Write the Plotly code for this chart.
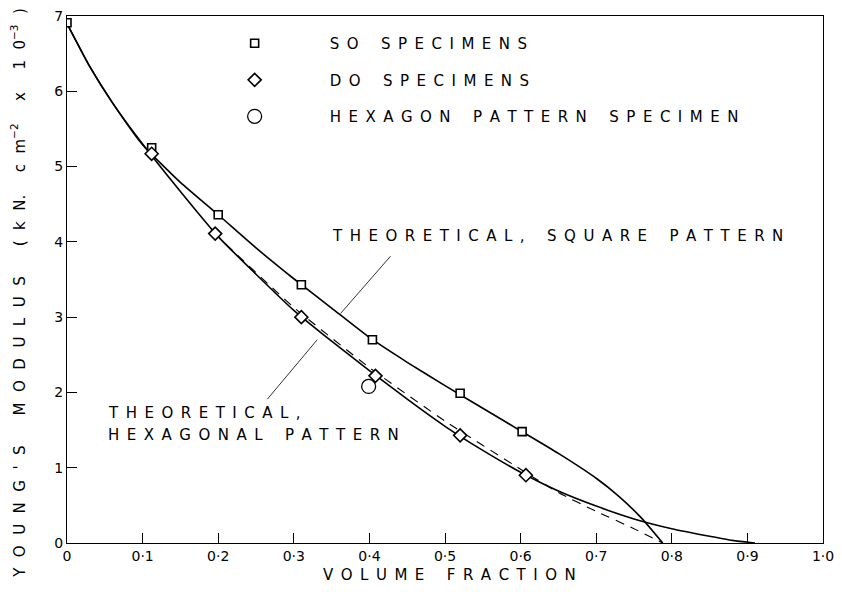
import plotly.graph_objects as go

# ---------------- data ----------------
so_x = [0.0, 0.112, 0.20, 0.31, 0.404, 0.52, 0.602]
so_y = [6.91, 5.25, 4.36, 3.43, 2.70, 1.99, 1.48]

do_x = [0.112, 0.196, 0.31, 0.408, 0.52, 0.607]
do_y = [5.17, 4.11, 3.00, 2.22, 1.43, 0.90]

hex_x = [0.399]
hex_y = [2.08]

sq_theory_x = [0.0, 0.03, 0.06, 0.10, 0.15, 0.20, 0.25, 0.30, 0.35, 0.40, 0.45, 0.50,
               0.55, 0.60, 0.65, 0.70, 0.73, 0.76, 0.788]
sq_theory_y = [6.90, 6.33, 5.85, 5.29, 4.79, 4.36, 3.92, 3.51, 3.12, 2.73, 2.40, 2.09,
               1.79, 1.49, 1.19, 0.86, 0.62, 0.33, 0.0]

hx_theory_x = [0.0, 0.03, 0.06, 0.10, 0.15, 0.20, 0.25, 0.30, 0.35, 0.40, 0.45, 0.50,
               0.55, 0.60, 0.65, 0.70, 0.75, 0.80, 0.85, 0.88, 0.91]
hx_theory_y = [6.90, 6.33, 5.85, 5.30, 4.67, 4.07, 3.57, 3.09, 2.68, 2.29, 1.91, 1.55,
               1.23, 0.94, 0.69, 0.49, 0.32, 0.19, 0.09, 0.035, 0.0]

dash_x = [0.21, 0.30, 0.40, 0.50, 0.60, 0.65, 0.70, 0.75, 0.788]
dash_y = [3.97, 3.13, 2.33, 1.62, 0.98, 0.67, 0.42, 0.19, 0.0]

x_tickvals = [0, 0.1, 0.2, 0.3, 0.4, 0.5, 0.6, 0.7, 0.8, 0.9, 1.0]
x_ticktext = ["0", "0·1", "0·2", "0·3", "0·4", "0·5", "0·6", "0·7", "0·8", "0·9", "1·0"]
y_tickvals = [0, 1, 2, 3, 4, 5, 6, 7]
y_ticktext = ["0", "1", "2", "3", "4", "5", "6", "7"]

# annotation anchors (data coords)
sq_label_pos = (0.348, 4.08)
sq_leader = [(0.428, 3.81), (0.362, 3.05)]
hx_label1_pos = (0.052, 1.73)
hx_label2_pos = (0.052, 1.43)
hx_leader = [(0.331, 2.70), (0.265, 1.91)]

# ---------------- styling ----------------
FONT = "DejaVu Sans"
SP = "\u2002"


def spaced(s, sep=SP, wgap=3):
    words = s.split(" ")
    return (SP * wgap).join(sep.join(list(w)) for w in words)


fig = go.Figure()

line_style = dict(color="black", width=1.6, shape="spline", smoothing=0.5)
fig.add_trace(go.Scatter(x=sq_theory_x, y=sq_theory_y, mode="lines", line=line_style,
                         showlegend=False, hoverinfo="skip"))
fig.add_trace(go.Scatter(x=hx_theory_x, y=hx_theory_y, mode="lines", line=line_style,
                         showlegend=False, hoverinfo="skip"))
fig.add_trace(go.Scatter(x=dash_x, y=dash_y, mode="lines",
                         line=dict(color="black", width=1.1, dash="9px,7px", shape="spline", smoothing=0.5),
                         showlegend=False, hoverinfo="skip"))

fig.add_trace(go.Scatter(x=so_x, y=so_y, mode="markers", name=spaced("SO SPECIMENS"),
                         legendgroup="a",
                         marker=dict(symbol="square", size=8, color="white",
                                     line=dict(color="black", width=1.6))))
fig.add_trace(go.Scatter(x=do_x, y=do_y, mode="markers", name=spaced("DO SPECIMENS"),
                         legendgroup="b",
                         marker=dict(symbol="diamond", size=10, color="white",
                                     line=dict(color="black", width=1.6))))
fig.add_trace(go.Scatter(x=hex_x, y=hex_y, mode="markers", name=spaced("HEXAGON PATTERN SPECIMEN"),
                         legendgroup="c",
                         marker=dict(symbol="circle", size=14, color="white",
                                     line=dict(color="black", width=1.3))))

for (x0, y0), (x1, y1) in [sq_leader, hx_leader]:
    fig.add_shape(type="line", x0=x0, y0=y0, x1=x1, y1=y1, xref="x", yref="y",
                  line=dict(color="black", width=0.8))

ann_font = dict(family=FONT, size=15, color="black")
fig.add_annotation(x=sq_label_pos[0], y=sq_label_pos[1], xref="x", yref="y",
                   text=spaced("THEORETICAL, SQUARE PATTERN"), showarrow=False,
                   xanchor="left", yanchor="middle", font=ann_font)
fig.add_annotation(x=hx_label1_pos[0], y=hx_label1_pos[1], xref="x", yref="y",
                   text=spaced("THEORETICAL,"), showarrow=False,
                   xanchor="left", yanchor="middle", font=ann_font)
fig.add_annotation(x=hx_label2_pos[0], y=hx_label2_pos[1], xref="x", yref="y",
                   text=spaced("HEXAGONAL PATTERN"), showarrow=False,
                   xanchor="left", yanchor="middle", font=ann_font)

# axis titles
fig.add_annotation(x=0.506, y=-0.06, xref="paper", yref="paper",
                   text=spaced("VOLUME FRACTION"), showarrow=False,
                   xanchor="center", yanchor="middle", font=ann_font)
YS = "\u2002\u2009"
ytitle = (spaced("YOUNG'S MODULUS", sep=YS, wgap=4) + SP * 4 + "(" + YS + "k" + YS + "N." + SP * 3
          + "c" + YS + "m" + "<sup>\u22122</sup>" + SP * 3 + "x" + SP * 3 + "1" + YS + "0"
          + "<sup>\u22123</sup>" + YS + ")")
fig.add_annotation(x=-0.064, y=0.474, xref="paper", yref="paper",
                   text=ytitle, showarrow=False, textangle=-90,
                   xanchor="center", yanchor="middle", font=ann_font)

axis_common = dict(showgrid=False, zeroline=False, showline=True, linecolor="black",
                   linewidth=1.2, mirror=True, ticks="inside", ticklen=10,
                   tickcolor="black", tickwidth=1.2,
                   tickfont=dict(family=FONT, size=14, color="black"))

fig.update_xaxes(range=[0, 1.0], tickvals=x_tickvals, ticktext=x_ticktext, **axis_common)
fig.update_yaxes(range=[0, 7.0], tickvals=y_tickvals, ticktext=y_ticktext, **axis_common)

fig.update_layout(
    width=842, height=592,
    margin=dict(l=67, r=16, t=8, b=49),
    paper_bgcolor="white", plot_bgcolor="white",
    font=dict(family=FONT, size=15, color="black"),
    showlegend=True,
    legend=dict(x=0.149, y=0.979, xanchor="left", yanchor="top",
                bgcolor="rgba(0,0,0,0)", borderwidth=0,
                tracegroupgap=14, itemwidth=140,
                font=dict(family=FONT, size=15, color="black")),
)

fig.write_html("out.html")
